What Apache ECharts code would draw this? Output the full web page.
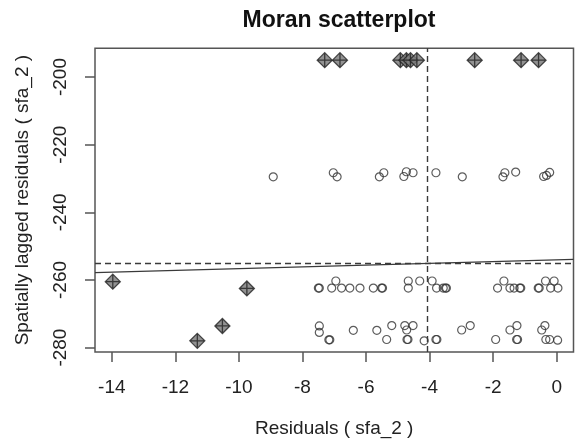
<!DOCTYPE html>
<html><head><meta charset="utf-8">
<script src="https://cdn.jsdelivr.net/npm/echarts@6/dist/echarts.min.js"></script>
<style>html,body{margin:0;padding:0;background:#fff}#c{width:575px;height:443px}</style>
</head><body><div id="c"></div>
<script>
// Ordinary observations (open circles)
const circleX = [
  -8.92, -7.03, -6.91, -5.58, -5.44, -4.81, -4.73, -4.52, -3.80, -2.97, -1.69, -1.63, -1.29, -0.41, -0.32, -0.22,
  -7.50, -7.47, -7.08, -6.77, -6.51, -6.19, -5.77, -5.51, -5.48, -4.67, -3.78, -3.57, -3.50, -3.47, -1.86, -1.47, -1.34, -1.16, -1.13, -0.58, -0.55, -0.19, 0.04,
  -6.95, -4.67, -4.31, -3.92, -1.66, -0.35, -0.08,
  -7.47, -7.47, -7.17, -7.14, -6.40, -5.66, -5.35, -5.19, -4.78, -4.72, -4.52, -4.71, -4.68, -4.17, -3.80, -3.77, -2.99, -2.72, -1.92, -1.47, -1.25, -1.26, -1.23, -0.47, -0.37, -0.34, -0.22, 0.03
];
const circleY = [
  -229.5, -228.3, -229.5, -229.5, -228.3, -229.4, -228.0, -228.3, -228.3, -229.5, -229.5, -228.3, -228.1, -229.4, -229.1, -228.2,
  -262.4, -262.4, -262.4, -262.4, -262.4, -262.4, -262.4, -262.4, -262.4, -262.4, -262.4, -262.4, -262.4, -262.4, -262.4, -262.4, -262.4, -262.4, -262.4, -262.4, -262.4, -262.4, -262.4,
  -260.3, -260.3, -260.3, -260.3, -260.3, -260.3, -260.3,
  -273.6, -275.5, -277.7, -277.7, -274.9, -274.9, -277.6, -273.5, -273.5, -274.8, -273.5, -277.6, -277.6, -278.0, -277.6, -277.6, -274.8, -273.5, -277.6, -274.8, -273.5, -277.6, -277.6, -274.8, -273.5, -277.6, -277.6, -277.8
];
// Influential observations (diamond-plus markers)
const diamondX = [-7.30, -6.82, -4.92, -4.73, -4.60, -4.40, -2.58, -1.12, -0.57, -13.97, -11.31, -10.52, -9.75];
const diamondY = [-195.0, -195.0, -195.0, -195.0, -195.0, -195.0, -195.0, -195.0, -195.0, -260.5, -278.0, -273.6, -262.5];

const xTicks = [-14, -12, -10, -8, -6, -4, -2, 0];
const yTicks = [-280, -260, -240, -220, -200];
const xRange = [-14.53, 0.53];
const yRange = [-281.3, -191.5];
const meanX = -4.06;
const meanY = -255.1;
const slope = 0.26;

const regY = x => meanY + slope * (x - meanX);
const pairs = (xs, ys) => xs.map((x, i) => [x, ys[i]]);

const FONT = 'Liberation Sans, Arial, sans-serif';
const INK = '#222';
const LINE = '#3a3a3a';

const chart = echarts.init(document.getElementById('c'), null, {renderer: 'canvas'});
chart.setOption({
  animation: false,
  backgroundColor: '#fff',
  title: {
    text: 'Moran scatterplot',
    left: 334, top: 4, textAlign: 'center',
    textStyle: {fontFamily: FONT, fontSize: 23, fontWeight: 'bold', color: '#111'}
  },
  grid: {left: 95, right: 1.5, top: 48.3, bottom: 90.3, show: true, borderColor: '#555', borderWidth: 1.5, backgroundColor: 'transparent'},
  xAxis: {
    type: 'value', min: xRange[0], max: xRange[1],
    name: 'Residuals ( sfa_2 )', nameLocation: 'middle', nameGap: 67,
    nameTextStyle: {fontFamily: FONT, fontSize: 19, color: INK},
    axisLine: {show: false, onZero: false},
    axisTick: {show: true, length: 10, customValues: xTicks, lineStyle: {color: '#555', width: 1.5}},
    axisLabel: {customValues: xTicks, margin: 26, fontFamily: FONT, fontSize: 19, color: INK},
    splitLine: {show: false}
  },
  yAxis: {
    type: 'value', min: yRange[0], max: yRange[1],
    name: 'Spatially lagged residuals ( sfa_2 )', nameLocation: 'middle', nameGap: 63,
    nameTextStyle: {fontFamily: FONT, fontSize: 19, color: INK},
    axisLine: {show: false, onZero: false},
    axisTick: {show: true, length: 10, customValues: yTicks, lineStyle: {color: '#555', width: 1.5}},
    axisLabel: {customValues: yTicks, rotate: 90, margin: 25, fontFamily: FONT, fontSize: 19, color: INK},
    splitLine: {show: false}
  },
  series: [
    {
      type: 'line', data: [[xRange[0], regY(xRange[0])], [xRange[1], regY(xRange[1])]],
      showSymbol: false, silent: true,
      lineStyle: {color: LINE, width: 1.4},
      markLine: {
        silent: true, symbol: ['none', 'none'], label: {show: false},
        lineStyle: {color: LINE, width: 1.4, type: [6, 4]},
        data: [{xAxis: meanX}, {yAxis: meanY}]
      },
      z: 1
    },
    {
      type: 'scatter', data: pairs(circleX, circleY),
      symbol: 'circle', symbolSize: 8,
      itemStyle: {color: 'rgba(0,0,0,0)', borderColor: '#333', borderWidth: 1.2},
      z: 3
    },
    {
      type: 'scatter', data: pairs(diamondX, diamondY),
      symbol: 'path://M0 -10 L10 0 L0 10 L-10 0 Z M0 -10 L0 10 M-10 0 L10 0',
      symbolSize: 15,
      itemStyle: {color: '#777', borderColor: '#222', borderWidth: 1.3},
      z: 4
    }
  ]
});
</script>
</body></html>
